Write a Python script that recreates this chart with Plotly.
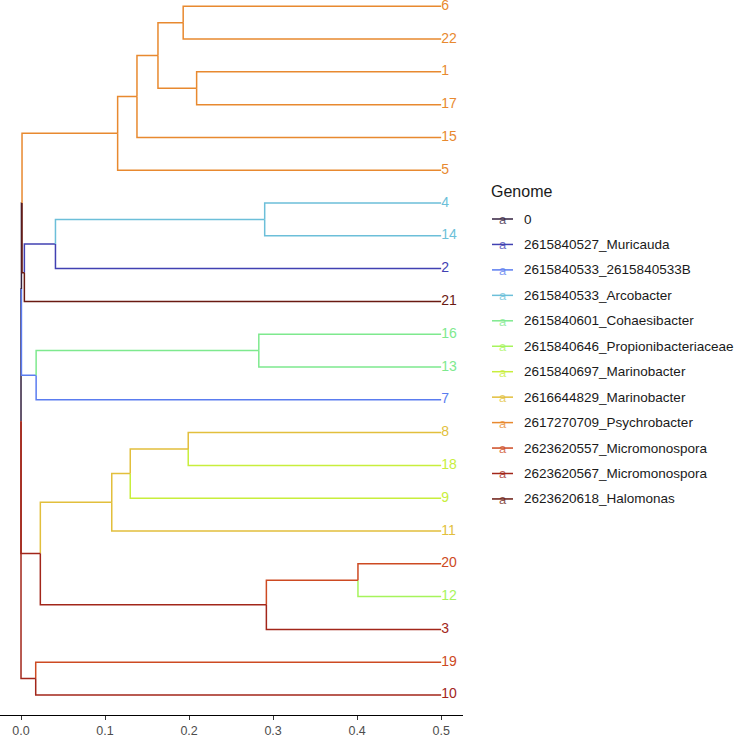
import plotly.graph_objects as go

# ---- groups (legend order) ----
G0 = "0"
MUR = "2615840527_Muricauda"
B533 = "2615840533_2615840533B"
ARC = "2615840533_Arcobacter"
COH = "2615840601_Cohaesibacter"
PRO = "2615840646_Propionibacteriaceae"
MAR697 = "2615840697_Marinobacter"
MAR829 = "2616644829_Marinobacter"
PSY = "2617270709_Psychrobacter"
M557 = "2623620557_Micromonospora"
M567 = "2623620567_Micromonospora"
HAL = "2623620618_Halomonas"

group_order = [G0, MUR, B533, ARC, COH, PRO, MAR697, MAR829, PSY, M557, M567, HAL]
group_colors = ["#33203F", "#4141B2", "#5A7CF0", "#6CBFD9", "#7EE98E", "#A6F45C",
                "#C8EE3C", "#E2BF3C", "#E8892F", "#CD4A22", "#A2261A", "#6A1A12"]

# ---- tips (top to bottom) ----
tip_labels = ["6", "22", "1", "17", "15", "5", "4", "14", "2", "21", "16",
              "13", "7", "8", "18", "9", "11", "20", "12", "3", "19", "10"]
tip_groups = [PSY, PSY, PSY, PSY, PSY, PSY, ARC, ARC, MUR, HAL, COH,
              COH, B533, MAR829, MAR697, MAR697, MAR829, M557, PRO, M567, M557, M567]
tip_depth = [0.5, 0.5, 0.5, 0.5, 0.5, 0.5, 0.5, 0.5, 0.5, 0.5, 0.5,
             0.5, 0.5, 0.5, 0.5, 0.5, 0.5, 0.5, 0.5, 0.5, 0.5, 0.5]

# ---- internal nodes (children listed before parents) ----
node_names = ["n6_22", "n1_17", "nA1", "nA2", "nO", "n4_14", "nM", "nB", "nA",
              "nC1", "nC2", "nD", "nYB", "nYA", "nY", "n20_12", "nF", "nG",
              "nE", "nH", "nR"]
node_children = [("6", "22"), ("1", "17"), ("n6_22", "n1_17"), ("nA1", "15"),
                 ("nA2", "5"), ("4", "14"), ("n4_14", "2"), ("nM", "21"),
                 ("nO", "nB"), ("16", "13"), ("nC1", "7"), ("nA", "nC2"),
                 ("8", "18"), ("nYB", "9"), ("nYA", "11"), ("20", "12"),
                 ("n20_12", "3"), ("nY", "nF"), ("nD", "nG"), ("19", "10"),
                 ("nE", "nH")]
node_depth = [0.193, 0.209, 0.163, 0.138, 0.115, 0.290, 0.041, 0.004, 0.0012,
              0.283, 0.018, 0.0005, 0.199, 0.130, 0.108, 0.401, 0.292, 0.023,
              0.0, 0.0175, 0.0]
node_groups = [PSY, PSY, PSY, PSY, PSY, ARC, MUR, HAL, G0,
               COH, B533, G0, MAR829, MAR829, MAR829, M557, M567, M567,
               M567, M567, G0]

# ---- layout of the tree ----
X, Y, GRP, PARENT = {}, {}, {}, {}
n_tips = len(tip_labels)
for i, t in enumerate(tip_labels):
    X[t] = tip_depth[i]
    Y[t] = n_tips - i
    GRP[t] = tip_groups[i]
for name, ch, d, g in zip(node_names, node_children, node_depth, node_groups):
    X[name] = d
    Y[name] = sum(Y[c] for c in ch) / len(ch)
    GRP[name] = g
    for c in ch:
        PARENT[c] = name

tipset = set(tip_labels)
paths = {g: {"x": [], "y": [], "text": []} for g in group_order}
for n in tip_labels + node_names:
    if n not in PARENT:
        continue
    p = PARENT[n]
    d = paths[GRP[n]]
    d["x"] += [X[p], X[p], X[n], None]
    d["y"] += [Y[p], Y[n], Y[n], None]
    d["text"] += ["", "", n if n in tipset else "", ""]

fig = go.Figure()
FONT = "Liberation Sans, Arial, sans-serif"
for g, col in zip(group_order, group_colors):
    d = paths[g]
    if not d["x"]:
        continue
    fig.add_trace(go.Scatter(
        x=d["x"], y=d["y"], text=d["text"],
        mode="lines+text", name=g, showlegend=False,
        line=dict(color=col, width=1.5),
        textposition="middle right",
        textfont=dict(color=col, size=14, family=FONT),
        cliponaxis=False, hoverinfo="skip",
    ))

# ---- legend drawn by hand (key line + "a" glyph + label) ----
W_PLOT, H_PLOT = 463.0, 715.0
def px(xp):
    return xp / W_PLOT
def py(yp):
    return 1 - yp / H_PLOT

annotations = [dict(text="Genome", x=px(489), y=py(191), xref="paper", yref="paper",
                    xanchor="left", yanchor="middle", showarrow=False,
                    font=dict(size=16, color="#1A1A1A", family=FONT))]
shapes = []
for i, (g, col) in enumerate(zip(group_order, group_colors)):
    yy = 219 + 25.45 * i
    shapes.append(dict(type="line", xref="paper", yref="paper",
                       x0=px(492), x1=px(513), y0=py(yy), y1=py(yy),
                       line=dict(color=col, width=1.5)))
    annotations.append(dict(text="a", x=px(502.5), y=py(yy + 0.5), xref="paper", yref="paper",
                            xanchor="center", yanchor="middle", showarrow=False,
                            opacity=0.75, font=dict(size=13, color=col, family=FONT)))
    annotations.append(dict(text=g, x=px(522), y=py(yy), xref="paper", yref="paper",
                            xanchor="left", yanchor="middle", showarrow=False,
                            font=dict(size=13.5, color="#1A1A1A", family=FONT)))

fig.update_layout(
    width=736, height=737,
    margin=dict(l=0, r=273, t=0, b=22, autoexpand=False),
    paper_bgcolor="white", plot_bgcolor="white",
    font=dict(family=FONT, color="#1A1A1A"),
    showlegend=False,
    annotations=annotations, shapes=shapes,
    xaxis=dict(
        range=[-0.025, 0.526], showgrid=False, zeroline=False,
        showline=True, linecolor="black", linewidth=1.1,
        ticks="outside", ticklen=4, tickcolor="#333333", tickwidth=1.1,
        tickvals=[0.0, 0.1, 0.2, 0.3, 0.4, 0.5],
        ticktext=["0.0", "0.1", "0.2", "0.3", "0.4", "0.5"],
        tickfont=dict(size=12.5, color="#4D4D4D"), automargin=False,
    ),
    yaxis=dict(range=[0.39, 22.19], showgrid=False, zeroline=False,
               showline=False, showticklabels=False, ticks="", automargin=False),
)

fig.write_html("out.html", config={"displayModeBar": False},
               post_script="document.body.style.margin='0';document.body.style.overflow='hidden';")
